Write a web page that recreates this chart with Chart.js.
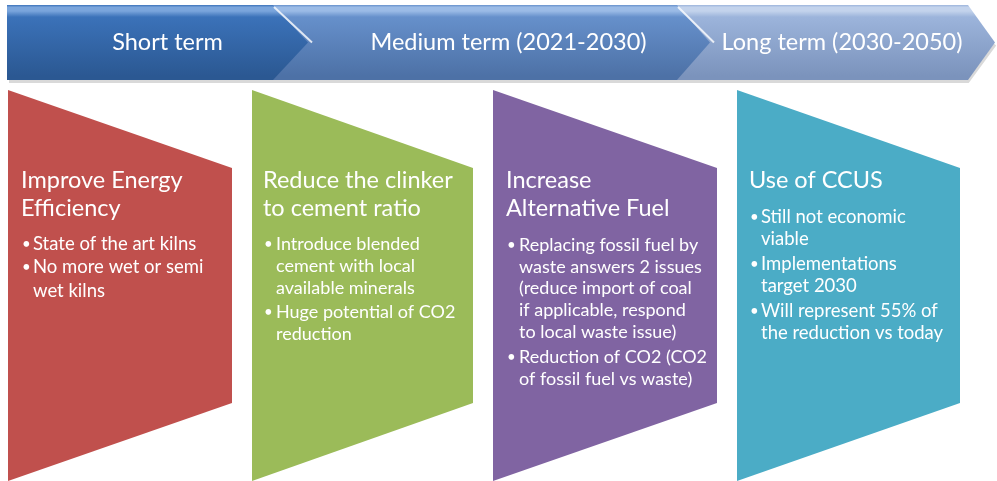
<!DOCTYPE html>
<html><head><meta charset="utf-8">
<script src="https://cdn.jsdelivr.net/npm/chart.js@4/dist/chart.umd.min.js"></script>
<style>html,body{margin:0;padding:0;background:#fff}#wrap{width:997px;height:481px;position:relative}</style>
</head><body><div id="wrap"><canvas id="c"></canvas></div>
<script>
// ---- content ----
const stages = ['Short term', 'Medium term (2021-2030)', 'Long term (2030-2050)'];
const titles = [['Improve Energy', 'Efficiency'], ['Reduce the clinker', 'to cement ratio'], ['Increase', 'Alternative Fuel'], ['Use of CCUS']];
const bullets = [
  [['State of the art kilns'], ['No more wet or semi', 'wet kilns']],
  [['Introduce blended', 'cement with local', 'available minerals'], ['Huge potential of CO2', 'reduction']],
  [['Replacing fossil fuel by', 'waste answers 2 issues', '(reduce import of coal', 'if applicable, respond', 'to local waste issue)'], ['Reduction of CO2 (CO2', 'of fossil fuel vs waste)']],
  [['Still not economic', 'viable'], ['Implementations', 'target 2030'], ['Will represent 55% of', 'the reduction vs today']]
];
const boxColors = ['#c0504d', '#9bbb59', '#8064a2', '#4bacc6'];

// ---- layout (diagram geometry, in canvas units) ----
const bannerTop = 5, bannerBottom = 80, bannerMid = 42.5;
const segStart = [7, 273, 677];
const segEnd = [273, 677, 968];
const tipLen = [35, 33, 27];
const stageLabelX = [167.5, 508.5, 842];
const segGrad = [['#7aa5dc', '#3b72b9', '#2b5892'], ['#9bbbe6', '#6690cb', '#4d71a6'], ['#c3d3ec', '#9cb4db', '#7b93bc']];
const boxLeft = [8, 252, 493, 737], boxRight = [232, 473, 717, 960];
const boxTopL = 90, boxTopR = 168, boxBotL = 481, boxBotR = 403;
const textX = [21, 263, 506, 749], bulletTextX = [33, 276, 519, 761];
const titleY = 180, titleLH = 28.5;
const bulletStart = [244, 244, 245, 217], bulletLH = [23.5, 22, 21.8, 22.5], bulletGap = [0, 2, 3, 2];
const bulletFont = [18.5, 18, 18, 18.5];

const FONT = 'Lato, "Open Sans", sans-serif';

const datasets = [];
// banner segments: top edge line filled to bottom edge line
for (let i = 0; i < stages.length; i++) {
  const s = segStart[i], e = segEnd[i];
  const grad = segGrad[i];
  datasets.push({
    label: 'seg' + i + 'top', order: i * 2,
    data: [{x: s, y: bannerTop}, {x: e, y: bannerTop}, {x: e + tipLen[i], y: bannerMid}],
    borderWidth: 0, pointRadius: 0, fill: '+1',
    backgroundColor: (ctx) => {
      const ch = ctx.chart;
      if (!ch.chartArea) return grad[1];
      const y = ch.scales.y;
      const g = ch.ctx.createLinearGradient(0, y.getPixelForValue(bannerTop), 0, y.getPixelForValue(bannerBottom));
      g.addColorStop(0, grad[1]);
      g.addColorStop(0.03, grad[0]);
      g.addColorStop(0.08, grad[0]);
      g.addColorStop(0.16, grad[1]);
      g.addColorStop(0.95, grad[2]);
      g.addColorStop(1, grad[2]);
      return g;
    }
  });
  datasets.push({
    label: 'seg' + i + 'bot', order: i * 2 + 1,
    data: [{x: s, y: bannerBottom}, {x: e, y: bannerBottom}, {x: e + tipLen[i], y: bannerMid}],
    borderWidth: 0, pointRadius: 0, fill: false, backgroundColor: 'rgba(0,0,0,0)'
  });
}
// highlight on notch edges
for (let i = 1; i < stages.length; i++) {
  datasets.push({
    label: 'notch' + i, order: -1,
    data: [{x: segStart[i] + 1, y: bannerTop + 2}, {x: segStart[i] + tipLen[i - 1] + 4, y: bannerMid}],
    borderColor: 'rgba(255,255,255,0.8)', borderWidth: 2, pointRadius: 0, fill: false
  });
}
// shadow under banner
datasets.push({
  label: 'shadow', order: 100,
  data: [{x: 9, y: bannerBottom + 1.5}, {x: segEnd[2], y: bannerBottom + 1.5}, {x: segEnd[2] + tipLen[2], y: bannerMid + 2}],
  borderColor: 'rgba(0,0,0,0.15)', borderWidth: 3, pointRadius: 0, fill: false
});
// pentagon boxes
for (let i = 0; i < boxColors.length; i++) {
  datasets.push({
    label: 'box' + i + 'top', order: 50 + i * 2,
    data: [{x: boxLeft[i], y: boxTopL}, {x: boxRight[i], y: boxTopR}],
    borderWidth: 0, pointRadius: 0, fill: '+1', backgroundColor: boxColors[i]
  });
  datasets.push({
    label: 'box' + i + 'bot', order: 51 + i * 2,
    data: [{x: boxLeft[i], y: boxBotL}, {x: boxRight[i], y: boxBotR}],
    borderWidth: 0, pointRadius: 0, fill: false, backgroundColor: 'rgba(0,0,0,0)'
  });
}

const textPlugin = {
  id: 'texts',
  afterDatasetsDraw(chart) {
    const c = chart.ctx, X = chart.scales.x, Y = chart.scales.y;
    c.save();
    c.fillStyle = '#ffffff';
    c.textBaseline = 'middle';
    c.textAlign = 'center';
    c.font = '23.5px ' + FONT;
    stages.forEach((s, i) => c.fillText(s, X.getPixelForValue(stageLabelX[i]), Y.getPixelForValue(bannerMid)));
    c.textAlign = 'left';
    for (let i = 0; i < titles.length; i++) {
      c.font = '23.5px ' + FONT;
      titles[i].forEach((t, j) => c.fillText(t, X.getPixelForValue(textX[i]), Y.getPixelForValue(titleY + j * titleLH)));
      let y = bulletStart[i];
      bullets[i].forEach((para, p) => {
        if (p > 0) y += bulletGap[i];
        para.forEach((line, k) => {
          if (k === 0) {
            c.font = '15px ' + FONT;
            c.fillText('\u2022', X.getPixelForValue(textX[i] + 1), Y.getPixelForValue(y));
          }
          c.font = bulletFont[i] + 'px ' + FONT;
          c.fillText(line, X.getPixelForValue(bulletTextX[i]), Y.getPixelForValue(y));
          y += bulletLH[i];
        });
      });
    }
    c.restore();
  }
};

new Chart(document.getElementById('c'), {
  type: 'line',
  data: {datasets},
  options: {
    responsive: true, maintainAspectRatio: false, animation: false,
    layout: {padding: 0},
    plugins: {legend: {display: false}, tooltip: {enabled: false}, filler: {propagate: false}},
    scales: {
      x: {type: 'linear', min: 0, max: 997, display: false},
      y: {type: 'linear', min: 0, max: 481, reverse: true, display: false}
    },
    elements: {line: {tension: 0}}
  },
  plugins: [textPlugin]
});
</script></body></html>
